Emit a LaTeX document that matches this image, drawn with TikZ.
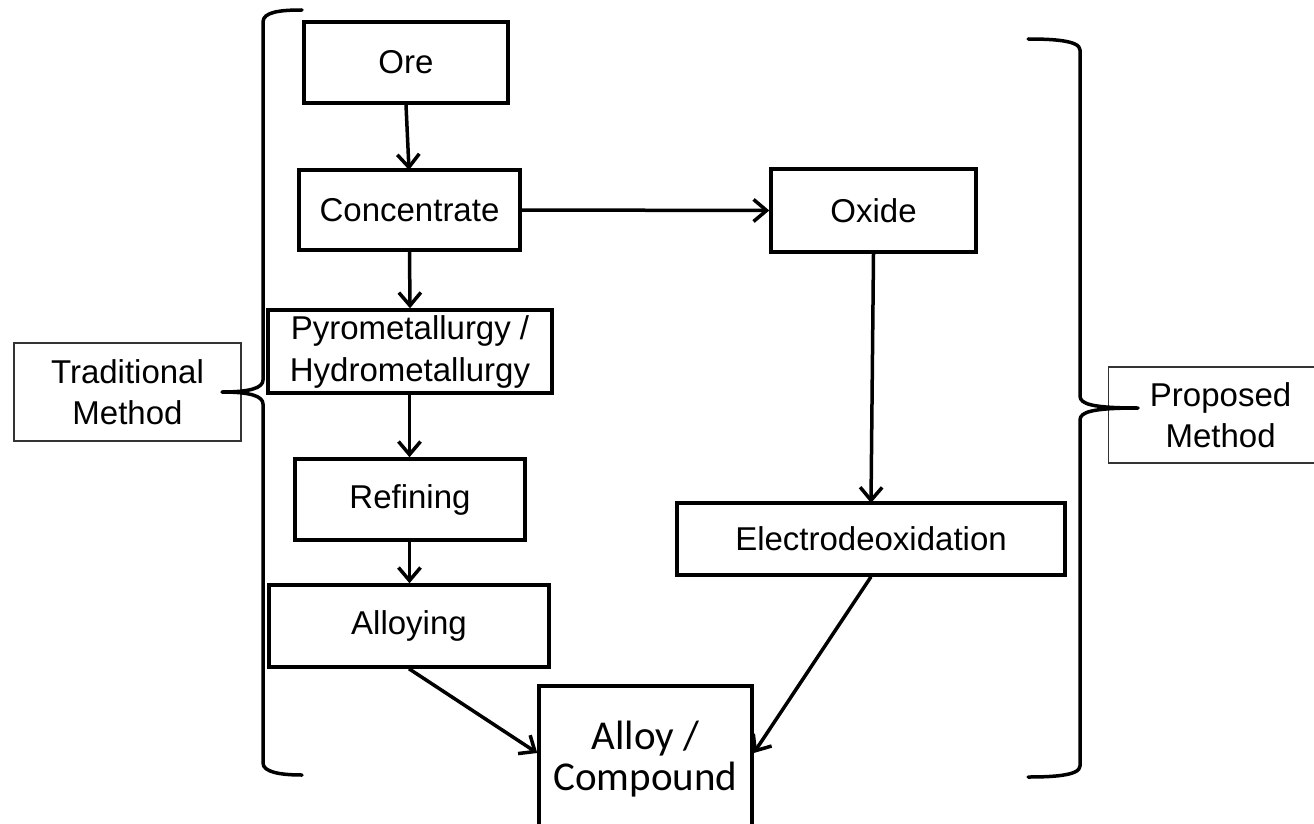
\documentclass[tikz,border=0pt]{standalone}
\usepackage{fontspec}
\setmainfont{Liberation Sans}
\newfontfamily\calfont{Carlito}
\usetikzlibrary{arrows.meta}
\begin{document}
\begin{tikzpicture}[x=1pt,y=-1pt,
  stepbox/.style={draw,line width=3.5pt,inner sep=0pt,align=center,font=\fontsize{33}{40}\selectfont},
  labelbox/.style={draw=black!80,line width=1.2pt,inner sep=0pt,align=center,font=\fontsize{33}{41}\selectfont},
  flow/.style={line width=3.5pt,-{Straight Barb[length=13pt,width=22pt,line width=3.5pt]}},
  bracepath/.style={line width=3.5pt,line cap=round,line join=round}]
\useasboundingbox (0,0) rectangle (1314,824);
% method label boxes
\node[labelbox,minimum width=227pt,minimum height=98pt] (trad) at (127.5,392) {Traditional\\Method};
\node[labelbox,minimum width=224pt,minimum height=96pt,anchor=west] (prop) at (1108,415) {Proposed\\Method};
% braces
\draw[bracepath] (302,10) .. controls (280,10) and (263,12) .. (263,22)
  -- (263,380) .. controls (263,388) and (250,392) .. (222,392)
  .. controls (250,392) and (263,396) .. (263,404)
  -- (263,763) .. controls (263,772) and (280,775) .. (302,775);
\draw[bracepath] (1028,39) .. controls (1050,39) and (1080,40) .. (1080,50)
  -- (1080,396) .. controls (1080,404) and (1092,408) .. (1138,408)
  .. controls (1092,408) and (1080,412) .. (1080,420)
  -- (1080,766) .. controls (1080,776) and (1050,777) .. (1028,777);
% step boxes
\node[stepbox,minimum width=204pt,minimum height=81pt] (ore) at (406,62.5) {Ore};
\node[stepbox,minimum width=221pt,minimum height=80pt] (conc) at (409.5,210) {Concentrate};
\node[stepbox,minimum width=205pt,minimum height=83pt] (oxide) at (873.5,210.5) {Oxide};
\node[stepbox,minimum width=284pt,minimum height=83pt,font=\fontsize{33}{42}\selectfont] (pyro) at (410,351.5) {Pyrometallurgy /\\Hydrometallurgy};
\node[stepbox,minimum width=230pt,minimum height=81pt] (ref) at (410,499.5) {Refining};
\node[stepbox,minimum width=280pt,minimum height=82pt] (alloying) at (409,626) {Alloying};
\node[stepbox,minimum width=388pt,minimum height=72pt] (electro) at (871,539) {Electrodeoxidation};
\node[stepbox,minimum width=213pt,minimum height=146pt,font=\calfont\fontsize{41}{41}\selectfont] (alloy) at (645.5,759) {Alloy /\\Compound};
% connectors
\draw[flow] (ore.south) -- (409,170);
\draw[flow] (conc.east) -- (oxide.west);
\draw[flow] (conc.south) -- (pyro.north);
\draw[flow] (pyro.south -| conc.south) -- (ref.north -| conc.south);
\draw[flow] (ref.south -| conc.south) -- (alloying.north -| conc.south);
\draw[flow] (oxide.south) -- (871,503);
\draw[flow] (alloying.south) -- ([yshift=6pt]alloy.west);
\draw[flow] (electro.south) -- ([yshift=6pt]alloy.east);
\end{tikzpicture}
\end{document}
